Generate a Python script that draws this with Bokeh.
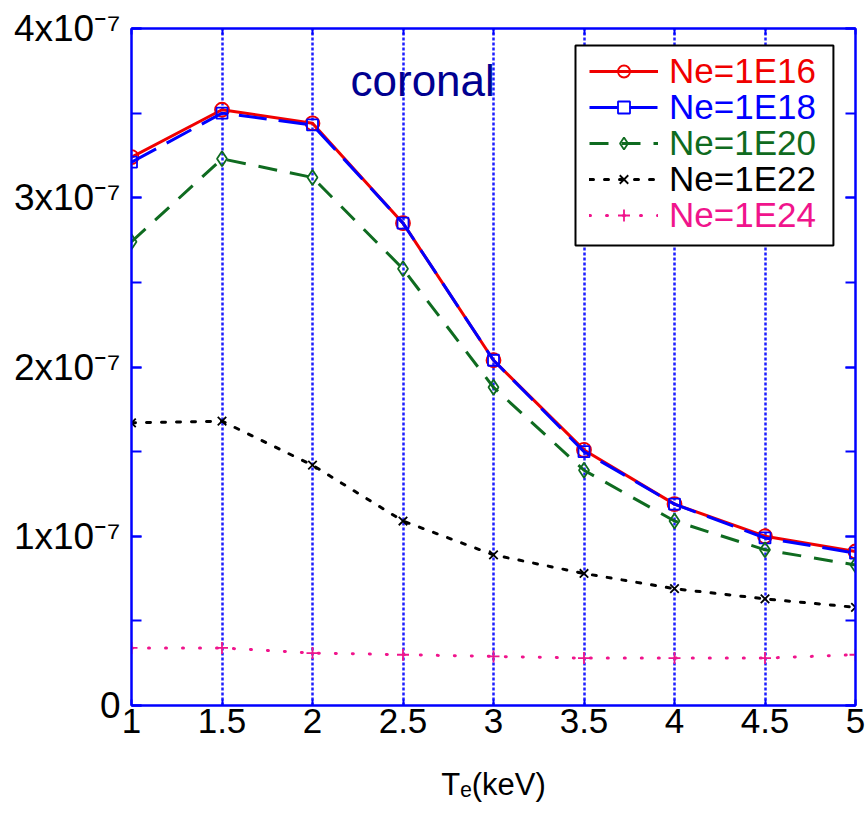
from bokeh.plotting import figure
from bokeh.models import (Range1d, LinearAxis, FixedTicker, SingleIntervalTicker, Label,
                          Legend, LegendItem, BoxAnnotation, NumeralTickFormatter,
                          CustomJSTickFormatter)
from bokeh.embed import file_html
from bokeh.resources import INLINE

# Electron temperature (keV)
te = [1, 1.5, 2, 2.5, 3, 3.5, 4, 4.5, 5]

# Coefficient vs. Te for several electron densities
ne16 = [3.24e-7, 3.52e-7, 3.44e-7, 2.85e-7, 2.04e-7, 1.51e-7, 1.19e-7, 1.00e-7, 0.91e-7]
ne18 = [3.21e-7, 3.50e-7, 3.43e-7, 2.85e-7, 2.04e-7, 1.50e-7, 1.19e-7, 0.99e-7, 0.90e-7]
ne20 = [2.74e-7, 3.23e-7, 3.12e-7, 2.58e-7, 1.88e-7, 1.39e-7, 1.09e-7, 0.92e-7, 0.83e-7]
ne22 = [1.67e-7, 1.68e-7, 1.42e-7, 1.09e-7, 0.89e-7, 0.78e-7, 0.69e-7, 0.63e-7, 0.58e-7]
ne24 = [0.34e-7, 0.34e-7, 0.31e-7, 0.30e-7, 0.29e-7, 0.28e-7, 0.28e-7, 0.28e-7, 0.30e-7]

series_labels = ["Ne=1E16", "Ne=1E18", "Ne=1E20", "Ne=1E22", "Ne=1E24"]

# y-axis tick labels (one per 1e-7 step)
y_tick_labels = ["0", "1x10\u207b\u2077", "2x10\u207b\u2077", "3x10\u207b\u2077", "4x10\u207b\u2077"]

FONT = "Liberation Sans"
AXIS_BLUE = "#0000FF"

p = figure(width=868, height=816, x_range=Range1d(1, 5), y_range=Range1d(0, 4e-7),
           output_backend="svg", toolbar_location=None,
           min_border_left=131, min_border_right=13, min_border_top=28, min_border_bottom=111)
p.background_fill_color = "white"
p.border_fill_color = "white"
p.outline_line_color = AXIS_BLUE
p.outline_line_width = 2

blank = CustomJSTickFormatter(code="return ''")
x_ticker = FixedTicker(ticks=te)


def y_ticker():
    return SingleIntervalTicker(interval=1e-7, num_minor_ticks=2)


def style_y(ax):
    ax.axis_line_color = AXIS_BLUE
    ax.axis_line_width = 2
    ax.major_tick_in = 10
    ax.major_tick_out = 0
    ax.major_tick_line_color = AXIS_BLUE
    ax.major_tick_line_width = 2
    ax.minor_tick_in = 10
    ax.minor_tick_out = 0
    ax.minor_tick_line_color = AXIS_BLUE
    ax.minor_tick_line_width = 2


# bottom axis
xa = p.xaxis[0]
xa.ticker = x_ticker
xa.formatter = NumeralTickFormatter(format="0.[0]")
xa.axis_line_color = AXIS_BLUE
xa.axis_line_width = 2
xa.major_tick_in = 6
xa.major_tick_out = 0
xa.major_tick_line_color = AXIS_BLUE
xa.major_tick_line_width = 2
xa.minor_tick_line_color = None
xa.major_label_text_font = FONT
xa.major_label_text_font_size = "35px"
xa.major_label_text_color = "black"
xa.major_label_standoff = 3
xa.axis_label = "T\u2091(keV)"
xa.axis_label_text_font = FONT
xa.axis_label_text_font_size = "31px"
xa.axis_label_text_font_style = "normal"
xa.axis_label_text_color = "black"
xa.axis_label_standoff = 31

# left axis with labelled steps of 1e-7
ya = p.yaxis[0]
ya.ticker = y_ticker()
ya.formatter = CustomJSTickFormatter(args=dict(labels=y_tick_labels),
                                     code="return labels[Math.round(tick * 1e7)] || ''")
style_y(ya)
ya.major_label_text_font = FONT
ya.major_label_text_font_size = "37px"
ya.major_label_text_color = "black"
ya.major_label_standoff = 11

# right and top axes (ticks only)
ra = LinearAxis(ticker=y_ticker(), formatter=blank, major_label_standoff=0)
style_y(ra)
p.add_layout(ra, "right")
ta = LinearAxis(ticker=x_ticker, formatter=blank, axis_line_color=AXIS_BLUE, axis_line_width=2,
                major_tick_in=6, major_tick_out=0, major_tick_line_color=AXIS_BLUE,
                major_tick_line_width=2, minor_tick_line_color=None, major_label_standoff=0)
p.add_layout(ta, "above")

# dotted vertical grid
p.xgrid.ticker = x_ticker
p.xgrid.grid_line_color = "#1E1EFF"
p.xgrid.grid_line_width = 2.5
p.xgrid.grid_line_dash = "3 2"
p.ygrid.visible = False

styles = [
    (ne16, "#F00000", "solid", "butt", "circle", 14),
    (ne18, "#0000FF", "28 12", "butt", "square", 11),
    (ne20, "#0F6B20", "19 13", "butt", "diamond", 15),
    (ne22, "#000000", "4 11", "round", "x", 12),
    (ne24, "#F0148C", "1 16", "round", "cross", 12),
]

handles = []
for vals, color, dash, cap, marker, size in styles:
    ln = p.line(te, vals, line_color=color, line_width=3, line_dash=dash, line_cap=cap)
    mk = p.scatter(te, vals, marker=marker, size=size, fill_color=None,
                   line_color=color, line_width=1.8)
    handles.append((ln, mk, color))

# legend frame
box = BoxAnnotation(left=3.453, right=4.878, top=3.90e-7, bottom=2.718e-7,
                    fill_color="white", fill_alpha=1.0, line_color="black", line_width=2,
                    line_alpha=1.0)
p.add_layout(box)

# one legend per series so each label carries its own colour
for i, ((ln, mk, color), name) in enumerate(zip(handles, series_labels)):
    leg = Legend(items=[LegendItem(label=name, renderers=[ln, mk])],
                 location=(458, 614 - 36 * i),
                 border_line_color=None, background_fill_alpha=0.0,
                 padding=0, margin=0, spacing=0,
                 glyph_width=69, glyph_height=30, label_height=30, label_standoff=11,
                 label_text_font=FONT, label_text_font_size="35px", label_text_color=color)
    p.add_layout(leg)

# in-plot annotation
p.add_layout(Label(x=2.21, y=3.69e-7, text="coronal", text_align="left",
                   text_baseline="alphabetic", text_font=FONT, text_font_size="44px",
                   text_color="#000090"))

open("out.html", "w").write(file_html(p, INLINE))
